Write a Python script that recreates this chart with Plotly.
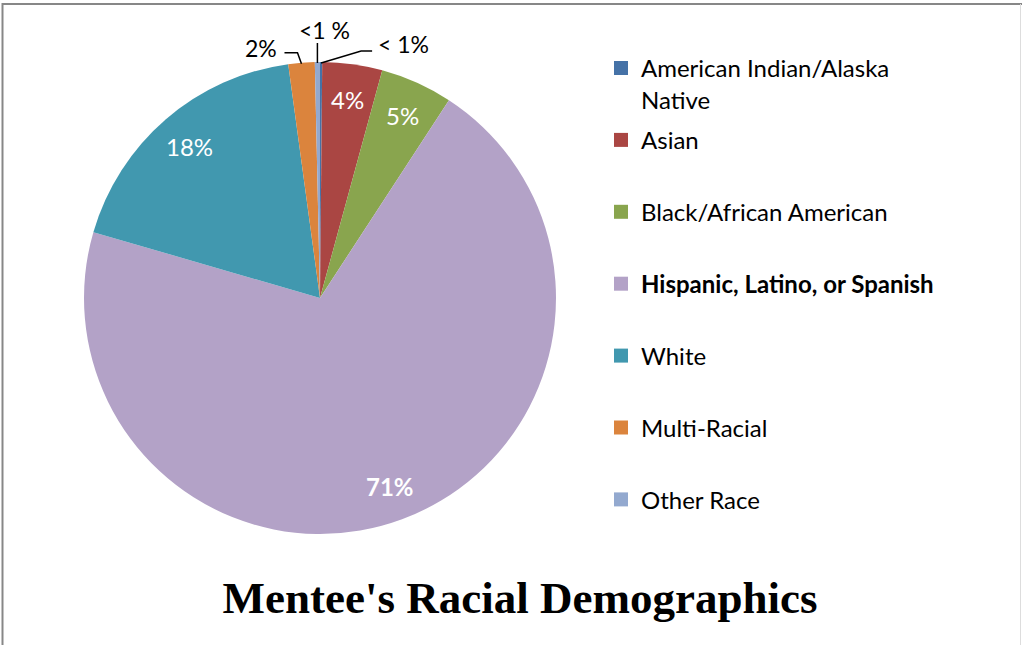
import math
import plotly.graph_objects as go

W, H = 1022, 645

categories = ["American Indian/Alaska Native", "Asian", "Black/African American",
              "Hispanic, Latino, or Spanish", "White", "Multi-Racial", "Other Race"]
legend_labels = ["American Indian/Alaska<br>Native", "Asian<br> ", "Black/African American<br> ",
                 "<b>Hispanic, Latino, or Spanish</b><br> ", "White<br> ", "Multi-Racial<br> ",
                 "Other Race<br> "]
values = [0.15, 4.1, 4.95, 70.3, 18.35, 1.8, 0.35]
value_labels = ["< 1%", "4%", "5%", "71%", "18%", "2%", "<1 %"]
colors = ["#4572A7", "#AA4643", "#89A54E", "#B3A2C7", "#4198AF", "#DB843D", "#93A9CF"]
inside = [False, True, True, True, True, False, False]

# pie geometry (pixels)
cx, cy, R = 320, 298, 236

def px2paper(x, y):
    return x / W, 1 - y / H

fig = go.Figure()
fig.add_trace(go.Pie(
    labels=categories, values=values, sort=False, direction="clockwise", rotation=0,
    marker=dict(colors=colors, line=dict(width=0)),
    textinfo="none", hoverinfo="label+percent", showlegend=False,
    domain=dict(x=[(cx - R) / W, (cx + R) / W], y=[1 - (cy + R) / H, 1 - (cy - R) / H]),
))

# legend via marker-only entries
for i, (lab, col) in enumerate(zip(legend_labels, colors)):
    fig.add_trace(go.Scatter(x=[None], y=[None], mode="markers", name=lab,
                             marker=dict(symbol="square", size=14, color=col),
                             legendgroup=f"g{i}", showlegend=True, hoverinfo="skip"))

total = sum(values)
annotations = []
shapes = []
cum = 0.0
mids = []
for v in values:
    mids.append(2 * math.pi * (cum + v / 2) / total)
    cum += v

# inside labels
for i, (lab, th) in enumerate(zip(value_labels, mids)):
    if not inside[i]:
        continue
    r = 0.85 * R
    x, y = px2paper(cx + r * math.sin(th), cy - r * math.cos(th))
    txt = f"<b>{lab}</b>" if i == 3 else lab
    annotations.append(dict(x=x, y=y, xref="paper", yref="paper", text=txt, showarrow=False,
                            font=dict(family="Lato", size=24, color="white"),
                            xanchor="center", yanchor="middle"))

# outside labels with leader lines: (elbow dx, elbow dy, end dx, label anchor)
leader = {
    5: ((-4, -11), (-13, 0), "right", (-5, -5)),
    6: ((0, -20), (0, 0), "center", (7, -13)),
    0: ((40, -12), (11, 0), "left", (4, -7)),
}
for i, ((ex, ey), (dx2, dy2), anch, (lx, ly)) in leader.items():
    th = mids[i]
    ax, ay = cx + R * math.sin(th), cy - R * math.cos(th) + 1
    bx, by = ax + ex, ay + ey
    qx, qy = bx + dx2, by + dy2
    p = [px2paper(ax, ay), px2paper(bx, by), px2paper(qx, qy)]
    path = f"M {p[0][0]},{p[0][1]} L {p[1][0]},{p[1][1]} L {p[2][0]},{p[2][1]}"
    shapes.append(dict(type="path", path=path, xref="paper", yref="paper",
                       line=dict(color="black", width=1.5)))
    tx, ty = px2paper(qx + lx, qy + ly)
    annotations.append(dict(x=tx, y=ty, xref="paper", yref="paper", text=value_labels[i],
                            showarrow=False, font=dict(family="Lato", size=23, color="black"),
                            xanchor=anch, yanchor="middle"))

# chart border
shapes += [
    dict(type="line", xref="paper", yref="paper", x0=2 / W, x1=1, y0=1 - 4 / H, y1=1 - 4 / H,
         line=dict(color="#878787", width=2)),
    dict(type="line", xref="paper", yref="paper", x0=2.5 / W, x1=2.5 / W, y0=0, y1=1 - 3 / H,
         line=dict(color="#878787", width=2)),
    dict(type="line", xref="paper", yref="paper", x0=1020.5 / W, x1=1020.5 / W, y0=0, y1=1 - 4 / H,
         line=dict(color="#DDDDDD", width=1)),
]

fig.update_layout(
    width=W, height=H, margin=dict(l=0, r=0, t=0, b=0),
    paper_bgcolor="white", plot_bgcolor="white",
    xaxis=dict(visible=False), yaxis=dict(visible=False),
    title=dict(text="<b>Mentee's Racial Demographics</b>", x=520 / W, xanchor="center",
               y=1 - 597 / H, yanchor="middle", yref="container",
               font=dict(family="Liberation Serif", size=45, color="black")),
    legend=dict(x=601 / W, y=1 - 45.9 / H, xanchor="left", yanchor="top",
                traceorder="grouped", tracegroupgap=6.5, valign="top",
                font=dict(family="Lato", size=24, color="black"),
                bgcolor="rgba(0,0,0,0)"),
    annotations=annotations, shapes=shapes,
)

fig.write_html("out.html", config={"displayModeBar": False},
               post_script="document.body.style.margin='0px';")
